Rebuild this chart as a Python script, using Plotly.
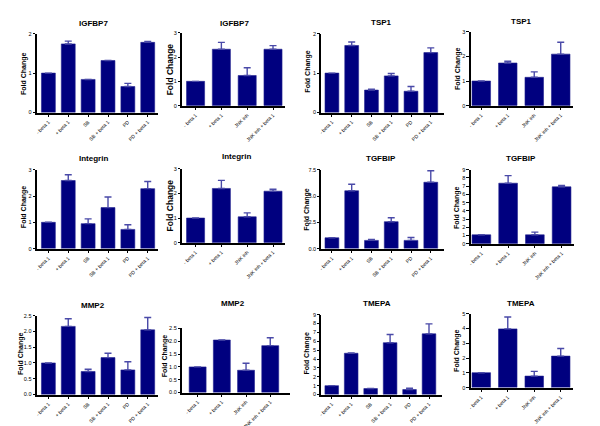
import plotly.graph_objects as go

# ---------------- data ----------------
cats6 = ["- beta 1", "+ beta 1", "SB", "SB + beta 1", "PD", "PD + beta 1"]
cats4 = ["- beta 1", "+ beta 1", "JNK inh", "JNK inh + beta 1"]

titles = ["IGFBP7", "IGFBP7", "TSP1", "TSP1",
          "Integrin", "Integrin", "TGFBIP", "TGFBIP",
          "MMP2", "MMP2", "TMEPA", "TMEPA"]

igfbp7_6 = [1.0, 1.74, 0.84, 1.32, 0.66, 1.78]
igfbp7_6_sem = [0, 0.07, 0, 0, 0.08, 0.02]
igfbp7_4 = [1.0, 2.32, 1.24, 2.32]
igfbp7_4_sem = [0, 0.28, 0.32, 0.15]

tsp1_6 = [1.0, 1.70, 0.57, 0.93, 0.54, 1.52]
tsp1_6_sem = [0, 0.09, 0.02, 0.06, 0.12, 0.12]
tsp1_4 = [1.0, 1.73, 1.15, 2.09]
tsp1_4_sem = [0, 0.07, 0.22, 0.48]

integrin_6 = [1.0, 2.59, 0.95, 1.56, 0.73, 2.28]
integrin_6_sem = [0, 0.22, 0.18, 0.40, 0.18, 0.27]
integrin_4 = [1.0, 2.20, 1.05, 2.09]
integrin_4_sem = [0, 0.33, 0.16, 0.08]

tgfbip_6 = [1.03, 5.50, 0.78, 2.56, 0.78, 6.31]
tgfbip_6_sem = [0, 0.62, 0.09, 0.38, 0.28, 1.09]
tgfbip_4 = [1.08, 7.36, 1.08, 6.92]
tgfbip_4_sem = [0, 0.92, 0.32, 0.16]

mmp2_6 = [1.0, 2.16, 0.73, 1.17, 0.78, 2.05]
mmp2_6_sem = [0, 0.24, 0.07, 0.14, 0.26, 0.39]
mmp2_4 = [1.0, 2.05, 0.87, 1.83]
mmp2_4_sem = [0, 0, 0.27, 0.31]

tmepa_6 = [1.0, 4.65, 0.67, 5.84, 0.56, 6.84]
tmepa_6_sem = [0, 0.03, 0, 0.93, 0.14, 1.12]
tmepa_4 = [1.01, 3.97, 0.78, 2.13]
tmepa_4_sem = [0, 0.81, 0.32, 0.52]

y_ticks = [
    [0, 1, 2], [0, 1, 2, 3], [0, 1, 2], [0, 1, 2, 3],
    [0, 1, 2, 3], [0, 1, 2, 3], [0.0, 2.5, 5.0, 7.5], list(range(0, 10)),
    [0.0, 0.5, 1.0, 1.5, 2.0, 2.5], [0.0, 0.5, 1.0, 1.5, 2.0, 2.5], list(range(0, 10)), list(range(0, 6)),
]
y_fmt = ["", "", "", "", "", "", ".1f", "", ".1f", ".1f", "", ""]

series = [
    (cats6, igfbp7_6, igfbp7_6_sem), (cats4, igfbp7_4, igfbp7_4_sem),
    (cats6, tsp1_6, tsp1_6_sem), (cats4, tsp1_4, tsp1_4_sem),
    (cats6, integrin_6, integrin_6_sem), (cats4, integrin_4, integrin_4_sem),
    (cats6, tgfbip_6, tgfbip_6_sem), (cats4, tgfbip_4, tgfbip_4_sem),
    (cats6, mmp2_6, mmp2_6_sem), (cats4, mmp2_4, mmp2_4_sem),
    (cats6, tmepa_6, tmepa_6_sem), (cats4, tmepa_4, tmepa_4_sem),
]

# ---------------- layout geometry (pixels) ----------------
W, H = 600, 426
# x0, x1, y_top, y_bottom, x-range, title (x, y), ylabel (x, y, size)
geom = [
    (26, 148, 23, 103, (-0.58, 5.53), (83, 13), (13, 64, 7)),
    (172, 275, 22, 96, (-0.52, 3.45), (225, 13), (160, 59, 8.5)),
    (312, 435, 23, 103, (-0.53, 5.66), (372, 12), (299, 62, 7)),
    (462, 565, 21, 96, (-0.4, 3.47), (513, 11), (449, 59, 7)),
    (26, 148, 161, 241, (-0.58, 5.53), (83, 150), (13, 199, 7)),
    (172, 275, 160, 235, (-0.52, 3.45), (227, 148), (160, 197, 8.5)),
    (312, 435, 161, 241, (-0.53, 5.66), (372, 150), (298, 202, 7)),
    (462, 566, 161, 236, (-0.4, 3.47), (513, 150), (448, 200, 7)),
    (26, 148, 309, 389, (-0.58, 5.53), (82, 299), (10, 348, 7)),
    (172, 280, 322, 387, (-0.64, 3.8), (223, 297), (155, 350, 7)),
    (312, 433, 308, 389, (-0.53, 5.66), (368, 297), (298, 348, 7)),
    (462, 565, 307, 382, (-0.4, 3.47), (513, 297), (448, 345, 7)),
]

FONT = "Liberation Sans, Arial, sans-serif"
BAR = "#00007f"
ERR = "#4a4aa8"

fig = go.Figure()
layout = dict(
    width=W, height=H, margin=dict(l=0, r=0, t=0, b=0),
    paper_bgcolor="white", plot_bgcolor="white", showlegend=False,
    font=dict(family=FONT, color="black"),
    bargap=0.3,
)
annotations = []

for i, ((cats, vals, sem), g) in enumerate(zip(series, geom)):
    x0, x1, yt, yb, xr, (tx, ty), (lx, ly, ls) = g
    k = "" if i == 0 else str(i + 1)
    xa, ya = "x" + k, "y" + k
    fig.add_trace(go.Bar(
        x=cats, y=vals, xaxis=xa, yaxis=ya,
        marker=dict(color=BAR, line=dict(color="#22228f", width=0.6)),
        error_y=dict(type="data", symmetric=False, array=sem, arrayminus=[0] * len(sem),
                     color=ERR, thickness=1.4, width=3.5),
        cliponaxis=False,
    ))
    yticks = y_ticks[i]
    ytext = [format(v, y_fmt[i]) if y_fmt[i] else str(v) for v in yticks]
    layout["xaxis" + k] = dict(
        domain=[x0 / W, x1 / W], anchor=ya, range=list(xr), type="category",
        showline=True, linecolor="black", linewidth=1.6, ticks="outside", ticklen=3,
        tickwidth=1, tickcolor="black", tickangle=-45, showgrid=False, zeroline=False,
        tickfont=dict(size=5, family=FONT, color="black"), fixedrange=True,
    )
    layout["yaxis" + k] = dict(
        domain=[1 - yb / H, 1 - yt / H], anchor=xa, range=[0, yticks[-1]],
        showline=True, linecolor="black", linewidth=1.6, ticks="outside", ticklen=2.5,
        tickwidth=1, tickcolor="black", tickvals=yticks, ticktext=ytext,
        showgrid=False, zeroline=False,
        tickfont=dict(size=5.5, family=FONT, color="black"), fixedrange=True,
    )
    annotations.append(dict(
        text="<b>%s</b>" % titles[i], x=tx / W, y=1 - ty / H, xref="paper", yref="paper",
        showarrow=False, xanchor="center", yanchor="middle",
        font=dict(size=8, family=FONT, color="black"),
    ))
    annotations.append(dict(
        text="<b>Fold Change</b>", x=lx / W, y=1 - ly / H, xref="paper", yref="paper",
        showarrow=False, xanchor="center", yanchor="middle", textangle=-90,
        font=dict(size=ls, family=FONT, color="black"),
    ))

layout["annotations"] = annotations
fig.update_layout(**layout)
fig.write_html("out.html")
